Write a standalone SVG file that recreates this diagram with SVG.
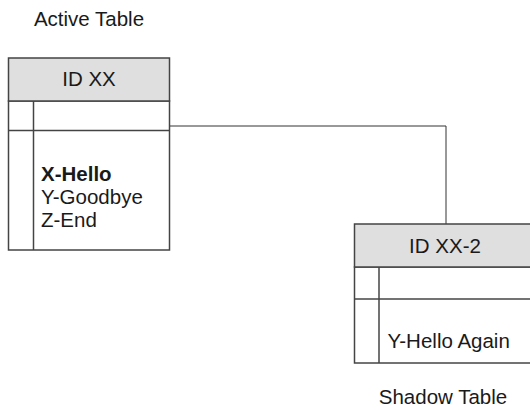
<svg xmlns="http://www.w3.org/2000/svg" width="530" height="410" viewBox="0 0 530 410">
<style>
text{font-family:"Liberation Sans",Arial,sans-serif;font-size:20.5px;fill:#1a1a1a}
.hdr{fill:#dfdfdf;stroke:#444;stroke-width:1.5}
.body{fill:#fff;stroke:#444;stroke-width:1.5}
.ln{stroke:#444;stroke-width:1.5;fill:none}
.conn{stroke:#333;stroke-width:1;fill:none}
.c{text-anchor:middle}
</style>
<rect width="530" height="410" fill="#fff"/>
<g id="connectors">
<path class="conn" d="M170,126 H446 V224"/>
</g>
<g id="active-table">
<text class="c" x="89" y="26" font-size="21">Active Table</text>
<rect class="body" x="8.5" y="101" width="161" height="149"/>
<rect class="hdr" x="8.5" y="58" width="161" height="43"/>
<line class="ln" x1="8.5" y1="130.5" x2="169.5" y2="130.5"/>
<line class="ln" x1="33.5" y1="101" x2="33.5" y2="250"/>
<text class="c" x="89" y="86">ID XX</text>
<text x="41" y="181" font-weight="bold">X-Hello</text>
<text x="41" y="204">Y-Goodbye</text>
<text x="41" y="227">Z-End</text>
</g>
<g id="shadow-table">
<rect class="body" x="354.5" y="267" width="183" height="96"/>
<rect class="hdr" x="354.5" y="224" width="183" height="43"/>
<line class="ln" x1="354.5" y1="299" x2="537" y2="299"/>
<line class="ln" x1="379" y1="267" x2="379" y2="363"/>
<text class="c" x="445" y="253">ID XX-2</text>
<text x="387.5" y="348">Y-Hello Again</text>
<text class="c" x="443" y="404">Shadow Table</text>
</g>
</svg>
